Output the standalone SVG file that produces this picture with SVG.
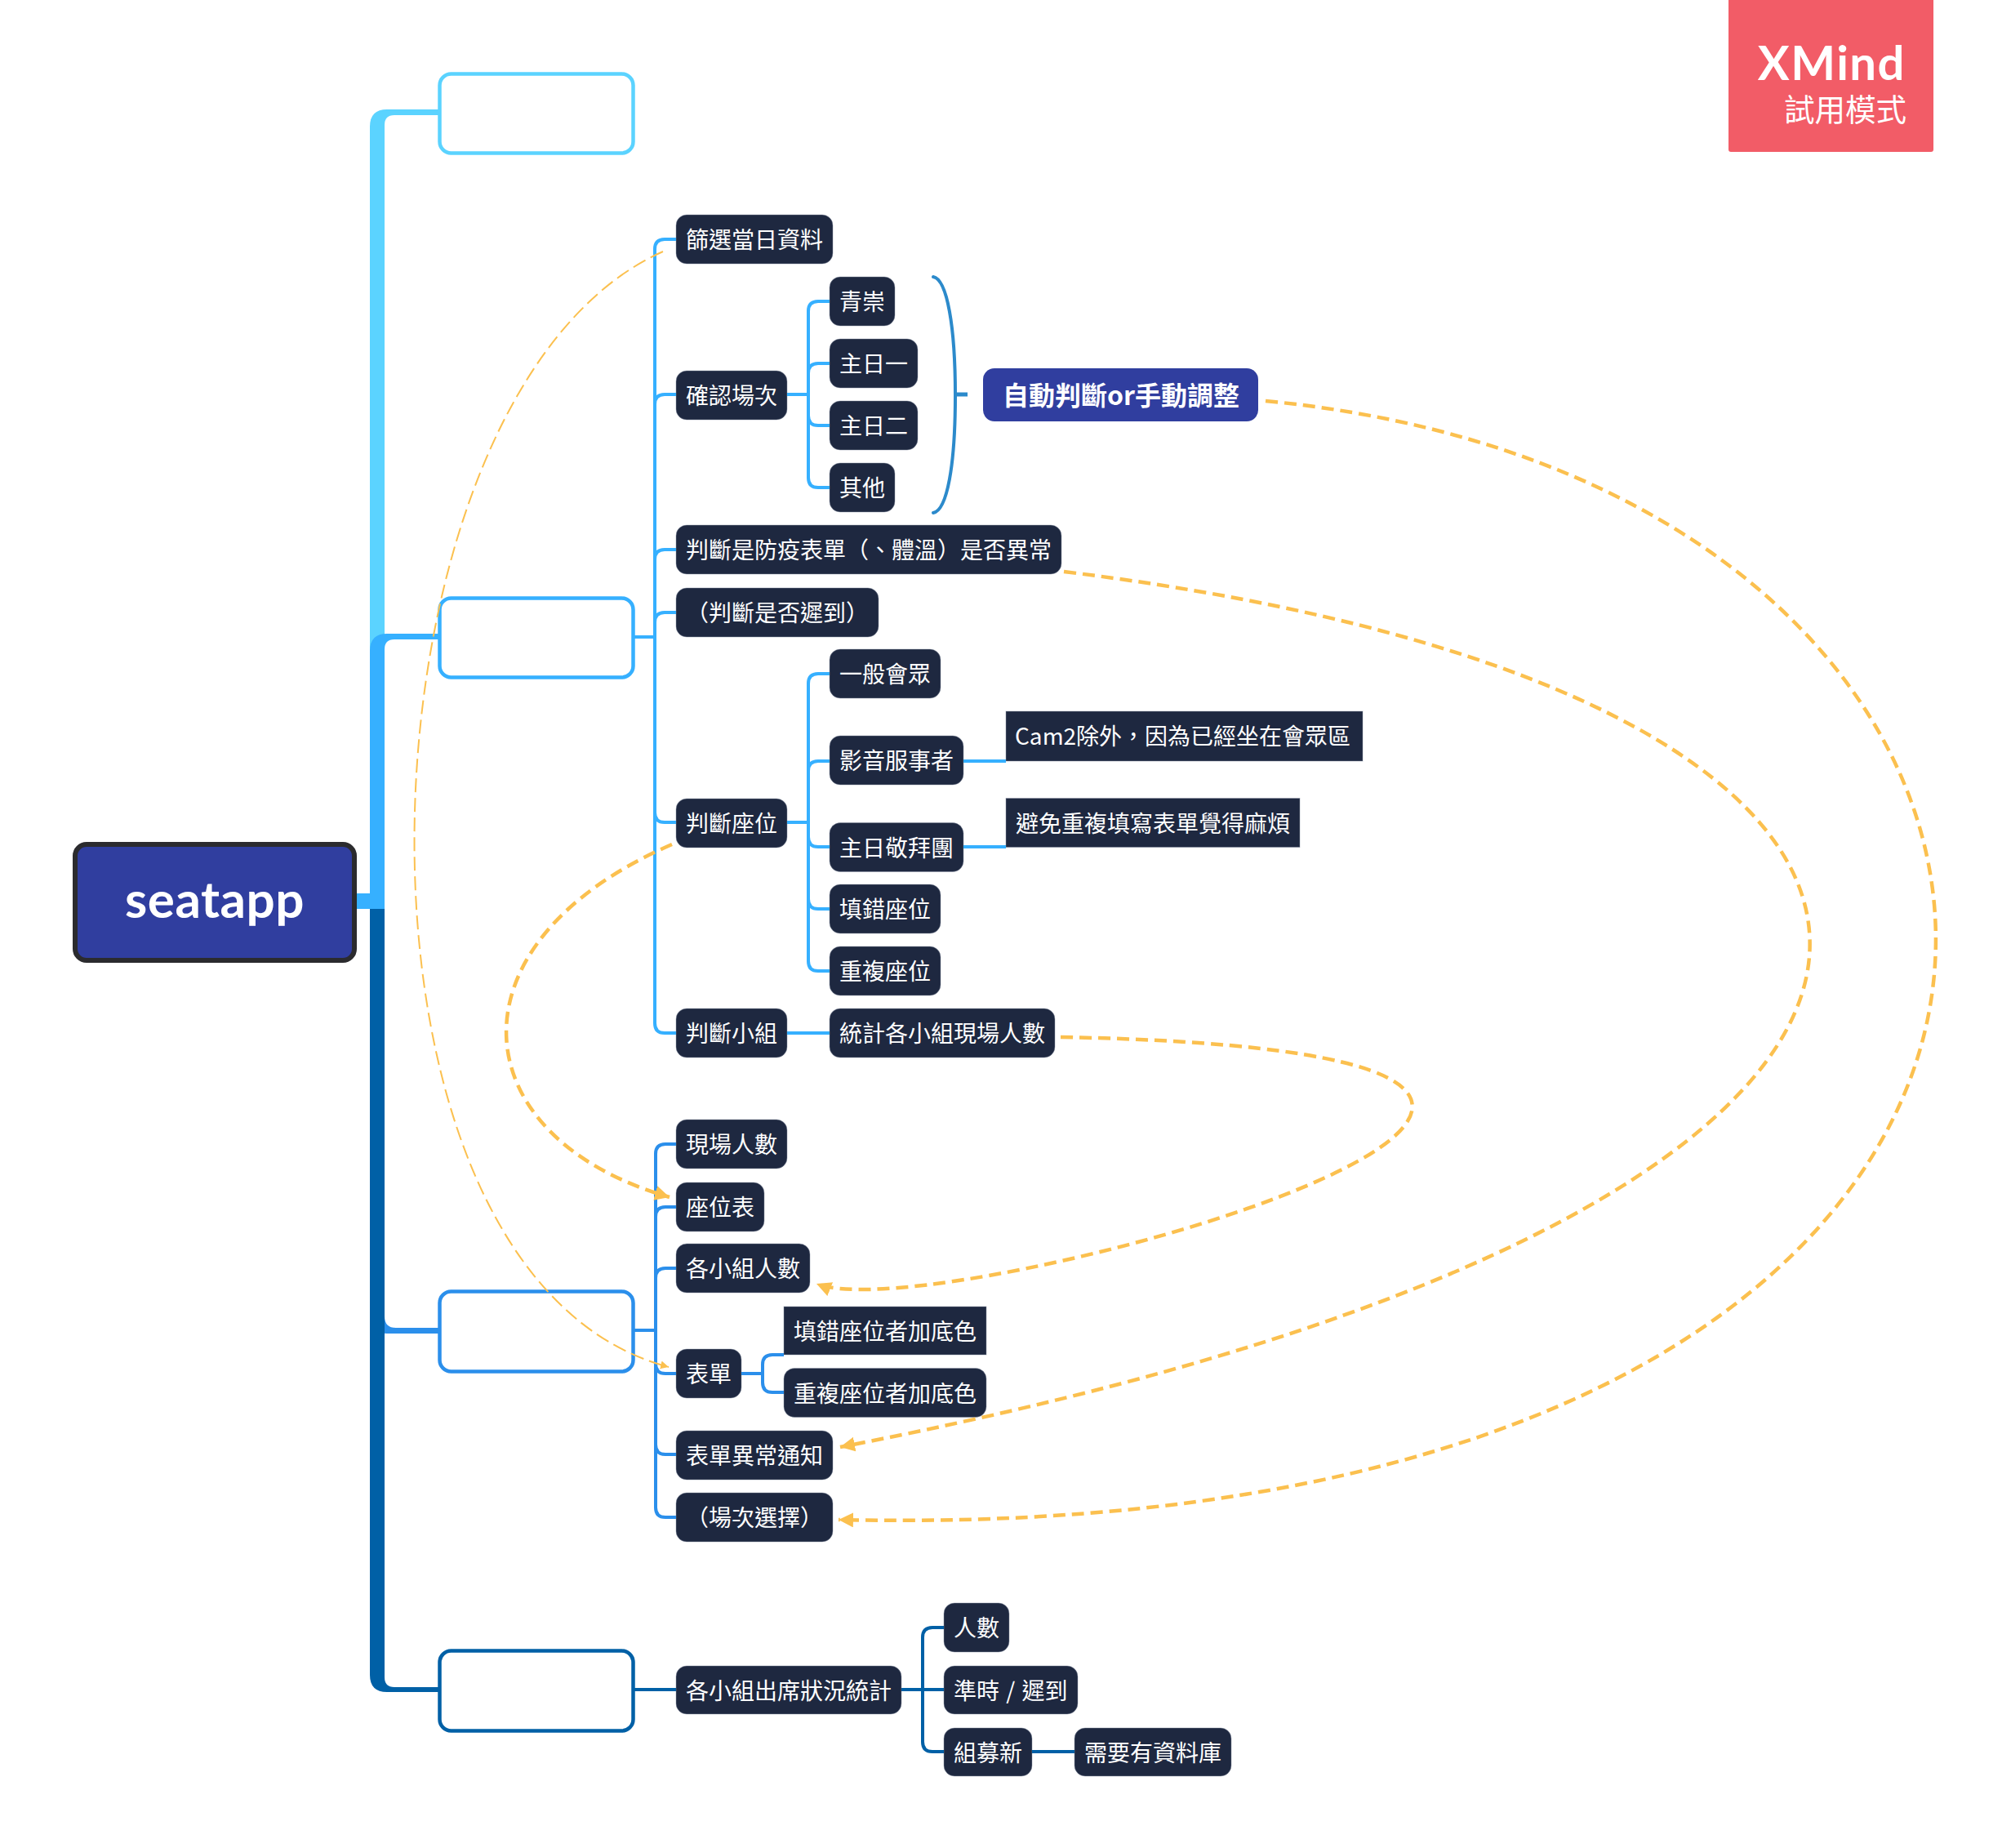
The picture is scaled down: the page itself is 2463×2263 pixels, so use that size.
<svg xmlns="http://www.w3.org/2000/svg" width="2463" height="2263" viewBox="0 0 2463 2263">
<style>
text{font-family:"Noto Sans CJK TC","Noto Sans",sans-serif;fill:#fff}
.l{font-size:28px;font-weight:400;transform:translateY(.7px)}
.n{fill:#1e2840;stroke:#8a93a5;stroke-opacity:.45;stroke-width:1}
.b{fill:#fff;stroke-width:4.500}
.w{fill:none;stroke-width:4;stroke-linecap:butt}
.c1{stroke:#5bd3ff}.c2{stroke:#36b0ff}.c3{stroke:#2b8feb}.c4{stroke:#0060a6}
.r{fill:none;stroke:#fbc04f;stroke-width:4.500;stroke-dasharray:15 8}
.rt{fill:none;stroke:#fbc04f;stroke-width:2;stroke-dasharray:17 7}
</style>
<defs>
<marker id="ah" markerUnits="userSpaceOnUse" markerWidth="20" markerHeight="20" refX="18" refY="9" orient="auto"><path d="M0,0L18,9L0,18z" fill="#fbc04f"/></marker>
<marker id="as" markerUnits="userSpaceOnUse" markerWidth="12" markerHeight="12" refX="10" refY="5" orient="auto"><path d="M0,0L10,5L0,10z" fill="#fbc04f"/></marker>
</defs>
<rect width="2463" height="2263" fill="#fff"/>
<g id="badge"><rect x="2117" y="-6" width="251" height="192" rx="3" fill="#f25c67"/>
<text x="2334" y="98" text-anchor="end" style="font-family:Lato,sans-serif;font-size:58px;font-weight:700;letter-spacing:1.500px">XMind</text>
<text x="2335" y="148" text-anchor="end" style="font-size:37.500px;font-weight:400">試用模式</text></g>
<g id="root"><rect x="92" y="1034" width="342" height="142" rx="14" fill="#303e9f" stroke="#2b2b2e" stroke-width="6"/>
<text x="263" y="1124" text-anchor="middle" style="font-family:Lato,sans-serif;font-size:62px;font-weight:700;letter-spacing:.5px">seatapp</text></g>
<g id="topic1"><rect class="b c1" x="538.500" y="90.500" width="237" height="97" rx="14"/></g>
<g id="topic2"><rect class="b c2" x="538.500" y="732.500" width="237" height="97" rx="14"/></g>
<g id="topic3"><rect class="b c3" x="538.500" y="1581.500" width="237" height="98" rx="14"/></g>
<g id="topic4"><rect class="b c4" x="538.500" y="2021.500" width="237" height="98" rx="14"/></g>
<g id="n01"><rect class="n" x="828" y="263" width="192" height="60" rx="13"/><text class="l" x="840" y="303">篩選當日資料</text></g>
<g id="n02"><rect class="n" x="828" y="454" width="136" height="60" rx="13"/><text class="l" x="840" y="494">確認場次</text></g>
<g id="n03"><rect class="n" x="828" y="643" width="472" height="60" rx="13"/><text class="l" x="840" y="683">判斷是防疫表單（、體溫）是否異常</text></g>
<g id="n04"><rect class="n" x="828" y="720" width="248" height="60" rx="13"/><text class="l" x="840" y="760">（判斷是否遲到）</text></g>
<g id="n05"><rect class="n" x="828" y="978" width="136" height="60" rx="13"/><text class="l" x="840" y="1018">判斷座位</text></g>
<g id="n06"><rect class="n" x="828" y="1235" width="136" height="60" rx="13"/><text class="l" x="840" y="1275">判斷小組</text></g>
<g id="n07"><rect class="n" x="1016" y="339" width="80" height="60" rx="13"/><text class="l" x="1028" y="379">青崇</text></g>
<g id="n08"><rect class="n" x="1016" y="415" width="108" height="60" rx="13"/><text class="l" x="1028" y="455">主日一</text></g>
<g id="n09"><rect class="n" x="1016" y="491" width="108" height="60" rx="13"/><text class="l" x="1028" y="531">主日二</text></g>
<g id="n10"><rect class="n" x="1016" y="567" width="80" height="60" rx="13"/><text class="l" x="1028" y="607">其他</text></g>
<g id="n11"><rect x="1204" y="451" width="337" height="65" rx="14" fill="#303e9f"/><text x="1228" y="496" style="font-size:32px;font-weight:700">自動判斷or手動調整</text></g>
<g id="n12"><rect class="n" x="1016" y="795" width="136" height="60" rx="13"/><text class="l" x="1028" y="835">一般會眾</text></g>
<g id="n13"><rect class="n" x="1016" y="901" width="164" height="60" rx="13"/><text class="l" x="1028" y="941">影音服事者</text></g>
<g id="n14"><rect class="n" x="1232" y="871" width="437" height="61"/><text class="l" x="1243" y="911">Cam2除外，因為已經坐在會眾區</text></g>
<g id="n15"><rect class="n" x="1016" y="1007.500" width="164" height="60" rx="13"/><text class="l" x="1028" y="1048">主日敬拜團</text></g>
<g id="n16"><rect class="n" x="1232" y="977.500" width="360" height="60"/><text class="l" x="1244" y="1018">避免重複填寫表單覺得麻煩</text></g>
<g id="n17"><rect class="n" x="1016" y="1083" width="136" height="60" rx="13"/><text class="l" x="1028" y="1123">填錯座位</text></g>
<g id="n18"><rect class="n" x="1016" y="1159" width="136" height="60" rx="13"/><text class="l" x="1028" y="1199">重複座位</text></g>
<g id="n19"><rect class="n" x="1016" y="1235" width="276" height="60" rx="13"/><text class="l" x="1028" y="1275">統計各小組現場人數</text></g>
<g id="n20"><rect class="n" x="828" y="1371" width="136" height="60" rx="13"/><text class="l" x="840" y="1411">現場人數</text></g>
<g id="n21"><rect class="n" x="828" y="1448" width="108" height="60" rx="13"/><text class="l" x="840" y="1488">座位表</text></g>
<g id="n22"><rect class="n" x="828" y="1523" width="164" height="60" rx="13"/><text class="l" x="840" y="1563">各小組人數</text></g>
<g id="n23"><rect class="n" x="828" y="1652" width="80" height="60" rx="13"/><text class="l" x="840" y="1692">表單</text></g>
<g id="n24"><rect class="n" x="960" y="1600" width="248" height="59"/><text class="l" x="972" y="1640">填錯座位者加底色</text></g>
<g id="n25"><rect class="n" x="960" y="1675.500" width="248" height="60" rx="13"/><text class="l" x="972" y="1716">重複座位者加底色</text></g>
<g id="n26"><rect class="n" x="828" y="1752" width="192" height="60" rx="13"/><text class="l" x="840" y="1792">表單異常通知</text></g>
<g id="n27"><rect class="n" x="828" y="1828" width="192" height="60" rx="13"/><text class="l" x="840" y="1868">（場次選擇）</text></g>
<g id="n28"><rect class="n" x="828" y="2040" width="276" height="59" rx="13"/><text class="l" x="840" y="2080">各小組出席狀況統計</text></g>
<g id="n29"><rect class="n" x="1156" y="1963" width="80" height="60" rx="13"/><text class="l" x="1168" y="2003">人數</text></g>
<g id="n30"><rect class="n" x="1156" y="2040" width="164" height="59" rx="13"/><text class="l" x="1168" y="2080" style="word-spacing:2px">準時 / 遲到</text></g>
<g id="n31"><rect class="n" x="1156" y="2116" width="108" height="59" rx="13"/><text class="l" x="1168" y="2156">組募新</text></g>
<g id="n32"><rect class="n" x="1316" y="2116" width="192" height="59" rx="13"/><text class="l" x="1328" y="2156">需要有資料庫</text></g>
<g id="connectors">
<path fill="#5bd3ff" d="M453,800V155Q453,134 474,134H538V141H483Q471,141 471,153V800Z"/>
<path fill="#36b0ff" d="M453,1113V797Q453,776 474,776H538V783H483Q471,783 471,795V1113Z"/>
<path fill="#36b0ff" d="M437,1094H471V1113H437Z"/>
<path fill="#2b8feb" d="M453,1113V1612Q453,1633 474,1633H538V1626H485Q471,1626 471,1612V1113Z"/>
<path fill="#0060a6" d="M453,1113V2051Q453,2072 474,2072H538V2066H483Q471,2066 471,2054V1113Z"/>
<g class="w c2" style="fill:none;stroke-width:4">
<path d="M776,780H802"/>
<path d="M828,293H814Q802,293 802,305V1253Q802,1265 814,1265H828"/>
<path d="M802,495Q802,483 814,483H828M802,685Q802,673 814,673H828M802,762Q802,750 814,750H828M802,995Q802,1007 814,1007H828"/>
<path d="M964,483H990M1016,369H1002Q990,369 990,381V585Q990,597 1002,597H1016M990,457Q990,445 1002,445H1016M990,509Q990,521 1002,521H1016"/>
<path d="M964,1007H990M1016,825H1002Q990,825 990,837V1177Q990,1189 1002,1189H1016M990,944Q990,932 1002,932H1016M990,1025Q990,1037 1002,1037H1016M990,1101Q990,1113 1002,1113H1016"/>
<path d="M1180,932H1232M1180,1037H1232M964,1265H1016"/>
</g>
<g class="w c3" style="fill:none;stroke-width:4">
<path d="M776,1629H803M828,1401H815Q803,1401 803,1413V1846Q803,1858 815,1858H828"/>
<path d="M803,1490Q803,1478 815,1478H828M803,1565Q803,1553 815,1553H828M803,1670Q803,1682 815,1682H828M803,1769Q803,1781 815,1781H828"/>
<path d="M908,1682H934M960,1659H946Q934,1659 934,1671V1693Q934,1705 946,1705H960"/>
</g>
<g class="w c4" style="fill:none;stroke-width:4">
<path d="M776,2069H828M1104,2069H1156M1156,1993H1142Q1130,1993 1130,2005V2133Q1130,2145 1142,2145H1156M1264,2145H1316"/>
</g>
<path d="M1143,339C1160,342 1170,400 1170,484C1170,570 1160,625 1143,628" fill="none" stroke="#2c8acb" stroke-width="4" stroke-linecap="round"/>
<path d="M1170,483H1185" fill="none" stroke="#2c8acb" stroke-width="5"/>
<path class="rt" marker-end="url(#as)" d="M812,308C424,480 386,1560 819,1674"/>
<path class="r" marker-end="url(#ah)" d="M823,1034C543,1155 563,1392 820,1466"/>
<path class="r" marker-end="url(#ah)" d="M1299,1270C2358,1290 1150,1632 1000,1572"/>
<path class="r" marker-end="url(#ah)" d="M1303,700C2530,850 2600,1470 1029,1772"/>
<path class="r" marker-end="url(#ah)" d="M1550,491C2690,600 2755,1900 1027,1861"/>
</g>
</svg>
